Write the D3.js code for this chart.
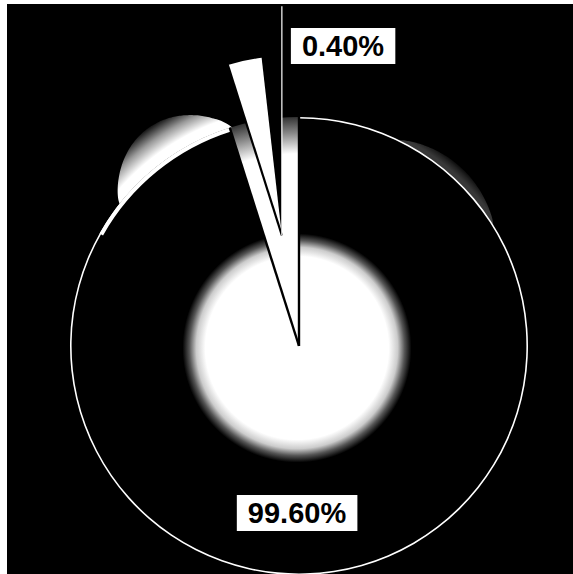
<!DOCTYPE html>
<html>
<head>
<meta charset="utf-8">
<script src="https://cdn.jsdelivr.net/npm/d3@7/dist/d3.min.js"></script>
<style>
  html, body { margin: 0; padding: 0; background: #fff; }
  svg { display: block; }
</style>
</head>
<body>
<svg id="chart" width="573" height="574"></svg>
<script>
// ---- data ----
const categories = ["minor", "major"];
const values = [0.4, 99.6];
const labels = ["0.40%", "99.60%"];

// ---- layout ----
const W = 573, H = 574;
const cx = 299, cy = 346, R = 229;
const minSliceDeg = 17.6;      // small slice is drawn enlarged, as in the original
const explode = 112;
const deg = Math.PI / 180;

const svg = d3.select("#chart");
const defs = svg.append("defs");

// frame
svg.append("rect").attr("x", 7).attr("y", 4).attr("width", W - 7).attr("height", H - 4).attr("fill", "#000");

// gradients (user space of the translated pie group: origin = pie centre)
const glow = defs.append("radialGradient").attr("id", "glow")
  .attr("gradientUnits", "userSpaceOnUse").attr("cx", -2).attr("cy", 2).attr("r", R);
[[0, "#fff"], [0.40, "#fff"], [0.44, "#ccc"], [0.47, "#555"], [0.50, "#000"], [1, "#000"]]
  .forEach(([o, c]) => glow.append("stop").attr("offset", o).attr("stop-color", c));

const gapG = defs.append("radialGradient").attr("id", "gapG")
  .attr("gradientUnits", "userSpaceOnUse").attr("cx", 0).attr("cy", 0).attr("r", R);
[[0, "#fff"], [0.84, "#fff"], [0.93, "#888"], [1, "#333"]]
  .forEach(([o, c]) => gapG.append("stop").attr("offset", o).attr("stop-color", c));

function haloGrad(id, t, op) {
  const h = defs.append("radialGradient").attr("id", id)
    .attr("gradientUnits", "userSpaceOnUse").attr("cx", 0).attr("cy", 0).attr("r", R + t);
  [[0, op], [(R + t * 0.25) / (R + t), op], [(R + t * 0.6) / (R + t), op * 0.6], [1, 0]]
    .forEach(([o, a]) => h.append("stop").attr("offset", o).attr("stop-color", "#fff").attr("stop-opacity", a));
}
haloGrad("haloL", 38, 1);
haloGrad("haloR", 14, 0.22);

// ---- pie layout ----
const minA = minSliceDeg * deg;
const pie = d3.pie().sort(null).value(d => d)
  .startAngle(-minA).endAngle(2 * Math.PI - minA);
const arcs = pie(values);
// enforce minimum visible angle for the small slice
arcs[0].endAngle = Math.max(arcs[0].endAngle, arcs[0].startAngle + minA);
arcs[1].startAngle = arcs[0].endAngle;

const small = arcs[0], big = arcs[1];
const arcFull = d3.arc().innerRadius(0).outerRadius(R);

const g = svg.append("g").attr("transform", `translate(${cx},${cy})`);
const bigEnd = big.endAngle - 2 * Math.PI;

// tapered halo outside the rim
function halo(a0, a1, thick, id) {
  const steps = d3.range(0, 1.0001, 1 / 60);
  const area = d3.areaRadial()
    .angle(u => a0 + (a1 - a0) * u)
    .innerRadius(R - 1)
    .outerRadius(u => R + thick * Math.pow(Math.sin(Math.PI * u), 0.8))
    .curve(d3.curveBasis);
  g.append("path").attr("d", area(steps)).attr("fill", `url(#${id})`);
}
halo(bigEnd - 34 * deg, bigEnd + 0.5 * deg, 36, "haloL");
halo(26 * deg, 58 * deg, 12, "haloR");

// gap left by the exploded slice
g.append("path").attr("d", arcFull({ startAngle: small.startAngle, endAngle: small.endAngle }))
  .attr("fill", "url(#gapG)");

// big slice
g.append("path").attr("d", arcFull(big)).attr("fill", "url(#glow)");
// light rim on the big slice
g.append("path")
  .attr("d", d3.arc().innerRadius(R - 1.6).outerRadius(R)(big))
  .attr("fill", "#fff");
g.append("path")
  .attr("d", d3.arc().innerRadius(R - 4).outerRadius(R)
    .startAngle(bigEnd - 0.75).endAngle(bigEnd)())
  .attr("fill", "#fff");
// dark radial edges of the big slice
const edge = (a, r) => [[0, 0], [Math.sin(a) * r, -Math.cos(a) * r]];
[big.startAngle, big.endAngle].forEach(a => {
  g.append("path").attr("d", d3.line()(edge(a, R)))
    .attr("stroke", "#000").attr("stroke-width", 2.4).attr("fill", "none");
});

// exploded small slice
const mid = (small.startAngle + small.endAngle) / 2;
const dx = Math.sin(mid) * explode, dy = -Math.cos(mid) * explode;
const sg = g.append("g").attr("transform", `translate(${dx},${dy})`);
const span = small.endAngle - small.startAngle;
sg.append("path").attr("d", arcFull(small)).attr("fill", "#000");
sg.append("path")
  .attr("d", d3.arc().innerRadius(0).outerRadius(R * 0.78)
    .startAngle(small.startAngle).endAngle(small.startAngle + span * 0.63)())
  .attr("fill", "#fff");
// left edge (dark) and right edge (light)
sg.append("path").attr("d", d3.line()(edge(small.startAngle, R * 0.8)))
  .attr("stroke", "#000").attr("stroke-width", 2.2).attr("fill", "none");
sg.append("path").attr("d", d3.line()(edge(small.endAngle, R)))
  .attr("stroke", "#fff").attr("stroke-width", 1.2).attr("fill", "none");

// ---- labels ----
const labelPos = [
  [cx + 44, cy - 300],
  [cx - 2, cy + 167]
];
labels.forEach((t, i) => {
  const lg = svg.append("g").attr("transform", `translate(${labelPos[i][0]},${labelPos[i][1]})`);
  const txt = lg.append("text")
    .attr("text-anchor", "middle").attr("dy", "0.35em")
    .attr("font-family", "'Liberation Sans', Arial, sans-serif")
    .attr("font-weight", "bold").attr("font-size", 29)
    .attr("fill", "#000").text(t);
  const bb = txt.node().getBBox();
  lg.insert("rect", "text")
    .attr("x", bb.x - 11).attr("y", -18).attr("width", bb.width + 22).attr("height", 36)
    .attr("fill", "#fff");
});
</script>
</body>
</html>
